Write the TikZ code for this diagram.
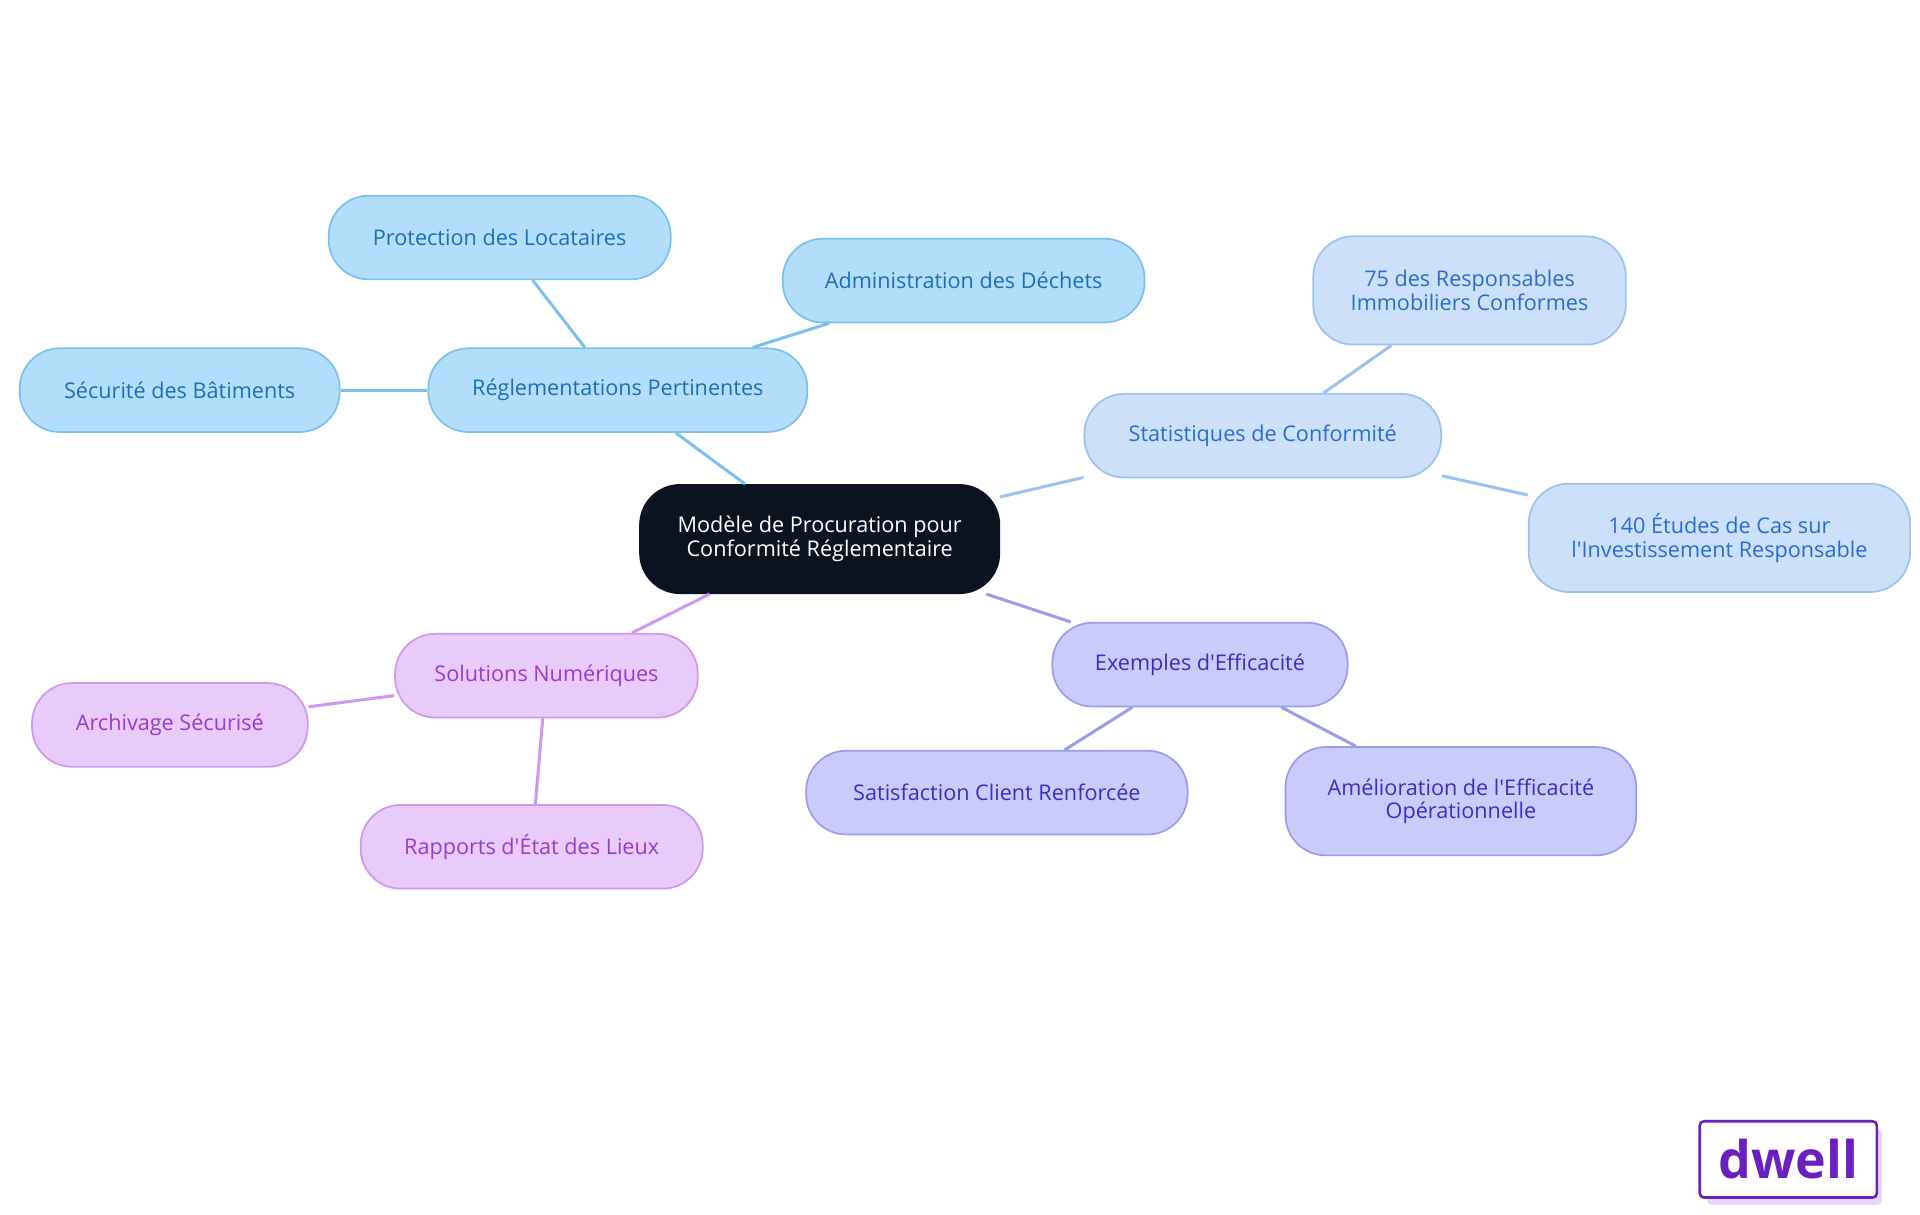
\documentclass[tikz,border=0pt]{standalone}
\usepackage{fontspec}
\setmainfont{Open Sans}
\usetikzlibrary{positioning}
\definecolor{rootfill}{HTML}{0B1220}
\definecolor{blfill}{HTML}{B3DEFB}\definecolor{bldraw}{HTML}{7CC0EE}\definecolor{bltext}{HTML}{1A6FB5}
\definecolor{stfill}{HTML}{CCE0FA}\definecolor{stdraw}{HTML}{9CC2EE}\definecolor{sttext}{HTML}{2B6CD0}
\definecolor{exfill}{HTML}{CACBFB}\definecolor{exdraw}{HTML}{9C9CEB}\definecolor{extext}{HTML}{3B2FC0}
\definecolor{sofill}{HTML}{E8CBFB}\definecolor{sodraw}{HTML}{CC99EE}\definecolor{sotext}{HTML}{9A3BD0}
\definecolor{logo}{HTML}{6A1FC0}\definecolor{logoshadow}{HTML}{E6D6F8}
\tikzset{
  box/.style={rounded corners=0.65cm, draw, line width=0.8pt, align=center,
    inner sep=0pt, font=\fontsize{10}{11}\selectfont},
  root/.style={box, fill=rootfill, draw=rootfill, text=white},
  regl/.style={box, fill=blfill, draw=bldraw, text=bltext},
  stat/.style={box, fill=stfill, draw=stdraw, text=sttext},
  exem/.style={box, fill=exfill, draw=exdraw, text=extext},
  solu/.style={box, fill=sofill, draw=sodraw, text=sotext},
  link/.style={line width=1.4pt}
}
\begin{document}
\begin{tikzpicture}[x=0.02cm,y=-0.02cm]
  \useasboundingbox (0,0) rectangle (1560,987);

  \node[root, minimum width=5.84cm, minimum height=1.76cm] (root) at (666,438) {Modèle de Procuration pour\\Conformité Réglementaire};

  \node[regl, minimum width=6.16cm, minimum height=1.36cm] (regl) at (502,317) {Réglementations Pertinentes};
  \node[regl, minimum width=5.56cm, minimum height=1.36cm] (prot) at (406,193) {Protection des Locataires};
  \node[regl, minimum width=5.88cm, minimum height=1.36cm] (dech) at (783,228) {Administration des Déchets};
  \node[regl, minimum width=5.2cm, minimum height=1.36cm] (secu) at (146,317) {Sécurité des Bâtiments};

  \node[stat, minimum width=5.8cm, minimum height=1.36cm] (stat) at (1026,354) {Statistiques de Conformité};
  \node[stat, minimum width=5.08cm, minimum height=1.76cm] (resp) at (1194,236) {75 des Responsables\\Immobiliers Conformes};
  \node[stat, minimum width=6.2cm, minimum height=1.76cm] (etud) at (1397,437) {140 Études de Cas sur\\l\textquotesingle Investissement Responsable};

  \node[exem, minimum width=4.8cm, minimum height=1.36cm] (exem) at (975,540) {Exemples d\textquotesingle Efficacité};
  \node[exem, minimum width=6.2cm, minimum height=1.36cm] (sati) at (810,644) {Satisfaction Client Renforcée};
  \node[exem, minimum width=5.7cm, minimum height=1.76cm] (amel) at (1187,651) {Amélioration de l\textquotesingle Efficacité\\Opérationnelle};

  \node[solu, minimum width=4.92cm, minimum height=1.36cm] (solu) at (444,549) {Solutions Numériques};
  \node[solu, minimum width=4.48cm, minimum height=1.36cm] (arch) at (138,589) {Archivage Sécurisé};
  \node[solu, minimum width=5.56cm, minimum height=1.36cm] (rapp) at (432,688) {Rapports d\textquotesingle État des Lieux};

  \draw[link, bldraw] (root) -- (regl);
  \draw[link, bldraw] (regl) -- (prot);
  \draw[link, bldraw] (regl) -- (dech);
  \draw[link, bldraw] (regl) -- (secu);
  \draw[link, stdraw] (root) -- (stat);
  \draw[link, stdraw] (stat) -- (resp);
  \draw[link, stdraw] (stat) -- (etud);
  \draw[link, exdraw] (root) -- (exem);
  \draw[link, exdraw] (exem) -- (sati);
  \draw[link, exdraw] (exem) -- (amel);
  \draw[link, sodraw] (root) -- (solu);
  \draw[link, sodraw] (solu) -- (arch);
  \draw[link, sodraw] (solu) -- (rapp);

  % logo
  \fill[logoshadow, rounded corners=2pt] (1387,917) rectangle (1529,979);
  \node[draw=logo, fill=white, line width=1.2pt, rounded corners=2pt, minimum width=2.88cm, minimum height=1.24cm,
    text=logo, font=\fontsize{24}{24}\selectfont\bfseries] (logo) at (1453,942) {dwell};
\end{tikzpicture}
\end{document}
